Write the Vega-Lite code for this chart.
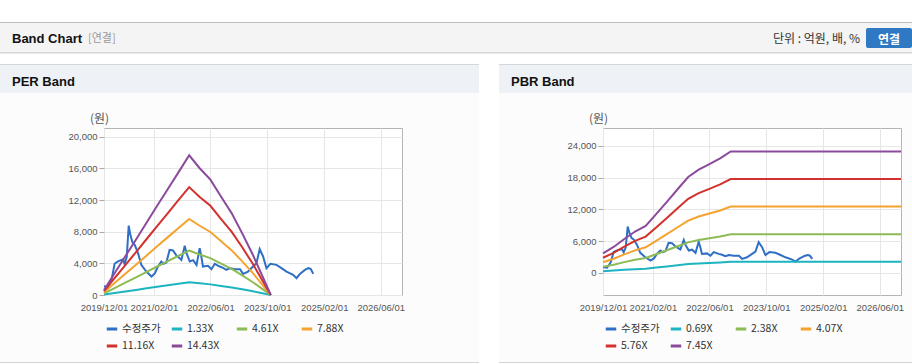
{
"$schema": "https://vega.github.io/schema/vega-lite/v6.json",
"background": "#fcfcfc",
"padding": 0,
"autosize": {"type": "pad"},
"data": {"values": []},
"datasets": {
"price": [
{"d":"2019-12-01","s":"수정주가","v":1100},{"d":"2020-01-05","s":"수정주가","v":1000},{"d":"2020-02-05","s":"수정주가","v":2000},{"d":"2020-03-01","s":"수정주가","v":3950},{"d":"2020-03-30","s":"수정주가","v":4250},{"d":"2020-05-12","s":"수정주가","v":4500},{"d":"2020-05-26","s":"수정주가","v":3900},{"d":"2020-06-13","s":"수정주가","v":4800},{"d":"2020-06-30","s":"수정주가","v":8760},{"d":"2020-07-14","s":"수정주가","v":7600},{"d":"2020-08-01","s":"수정주가","v":6650},{"d":"2020-08-20","s":"수정주가","v":6350},{"d":"2020-09-18","s":"수정주가","v":5290},{"d":"2020-10-16","s":"수정주가","v":3810},{"d":"2020-11-28","s":"수정주가","v":2960},{"d":"2021-01-12","s":"수정주가","v":2330},{"d":"2021-02-10","s":"수정주가","v":2750},{"d":"2021-03-08","s":"수정주가","v":3600},{"d":"2021-04-06","s":"수정주가","v":4230},{"d":"2021-04-26","s":"수정주가","v":3950},{"d":"2021-05-19","s":"수정주가","v":4100},{"d":"2021-06-16","s":"수정주가","v":5700},{"d":"2021-07-15","s":"수정주가","v":5630},{"d":"2021-08-13","s":"수정주가","v":5000},{"d":"2021-09-06","s":"수정주가","v":4700},{"d":"2021-09-25","s":"수정주가","v":4440},{"d":"2021-10-24","s":"수정주가","v":6220},{"d":"2021-11-08","s":"수정주가","v":5290},{"d":"2021-12-06","s":"수정주가","v":4230},{"d":"2022-01-04","s":"수정주가","v":4400},{"d":"2022-02-02","s":"수정주가","v":3800},{"d":"2022-03-01","s":"수정주가","v":5900},{"d":"2022-03-15","s":"수정주가","v":4870},{"d":"2022-03-29","s":"수정주가","v":3600},{"d":"2022-05-11","s":"수정주가","v":3700},{"d":"2022-06-10","s":"수정주가","v":3260},{"d":"2022-07-08","s":"수정주가","v":3940},{"d":"2022-08-20","s":"수정주가","v":3600},{"d":"2022-09-18","s":"수정주가","v":3430},{"d":"2022-10-16","s":"수정주가","v":3170},{"d":"2022-11-15","s":"수정주가","v":3390},{"d":"2022-12-27","s":"수정주가","v":3260},{"d":"2023-02-10","s":"수정주가","v":3260},{"d":"2023-03-08","s":"수정주가","v":2670},{"d":"2023-04-20","s":"수정주가","v":2960},{"d":"2023-06-02","s":"수정주가","v":3600},{"d":"2023-07-01","s":"수정주가","v":4020},{"d":"2023-07-29","s":"수정주가","v":5800},{"d":"2023-08-27","s":"수정주가","v":4870},{"d":"2023-09-25","s":"수정주가","v":3390},{"d":"2023-10-29","s":"수정주가","v":3940},{"d":"2023-12-20","s":"수정주가","v":3810},{"d":"2024-02-01","s":"수정주가","v":3390},{"d":"2024-03-15","s":"수정주가","v":2960},{"d":"2024-05-11","s":"수정주가","v":2540},{"d":"2024-06-09","s":"수정주가","v":2120},{"d":"2024-07-08","s":"수정주가","v":2670},{"d":"2024-08-20","s":"수정주가","v":3170},{"d":"2024-09-18","s":"수정주가","v":3390},{"d":"2024-10-08","s":"수정주가","v":3300},{"d":"2024-10-31","s":"수정주가","v":2670}
],
"per": [
{"d":"2019-12-01","s":"1.33X","v":59},{"d":"2019-12-01","s":"4.61X","v":203},{"d":"2019-12-01","s":"7.88X","v":347},{"d":"2019-12-01","s":"11.16X","v":491},{"d":"2019-12-01","s":"14.43X","v":635},
{"d":"2020-03-01","s":"1.33X","v":254},{"d":"2020-03-01","s":"4.61X","v":881},{"d":"2020-03-01","s":"7.88X","v":1505},{"d":"2020-03-01","s":"11.16X","v":2132},{"d":"2020-03-01","s":"14.43X","v":2756},
{"d":"2020-06-01","s":"1.33X","v":451},{"d":"2020-06-01","s":"4.61X","v":1563},{"d":"2020-06-01","s":"7.88X","v":2671},{"d":"2020-06-01","s":"11.16X","v":3783},{"d":"2020-06-01","s":"14.43X","v":4892},
{"d":"2020-09-01","s":"1.33X","v":646},{"d":"2020-09-01","s":"4.61X","v":2240},{"d":"2020-09-01","s":"7.88X","v":3830},{"d":"2020-09-01","s":"11.16X","v":5424},{"d":"2020-09-01","s":"14.43X","v":7013},
{"d":"2020-12-01","s":"1.33X","v":843},{"d":"2020-12-01","s":"4.61X","v":2923},{"d":"2020-12-01","s":"7.88X","v":4996},{"d":"2020-12-01","s":"11.16X","v":7075},{"d":"2020-12-01","s":"14.43X","v":9149},
{"d":"2021-03-01","s":"1.33X","v":1039},{"d":"2021-03-01","s":"4.61X","v":3600},{"d":"2021-03-01","s":"7.88X","v":6154},{"d":"2021-03-01","s":"11.16X","v":8716},{"d":"2021-03-01","s":"14.43X","v":11270},
{"d":"2021-06-01","s":"1.33X","v":1234},{"d":"2021-06-01","s":"4.61X","v":4278},{"d":"2021-06-01","s":"7.88X","v":7313},{"d":"2021-06-01","s":"11.16X","v":10356},{"d":"2021-06-01","s":"14.43X","v":13391},
{"d":"2021-09-01","s":"1.33X","v":1431},{"d":"2021-09-01","s":"4.61X","v":4960},{"d":"2021-09-01","s":"7.88X","v":8479},{"d":"2021-09-01","s":"11.16X","v":12008},{"d":"2021-09-01","s":"14.43X","v":15527},
{"d":"2021-12-01","s":"1.33X","v":1600},{"d":"2021-12-01","s":"4.61X","v":5600},{"d":"2021-12-01","s":"7.88X","v":9610},{"d":"2021-12-01","s":"11.16X","v":13630},{"d":"2021-12-01","s":"14.43X","v":17650},
{"d":"2022-03-01","s":"1.33X","v":1476},{"d":"2022-03-01","s":"4.61X","v":5117},{"d":"2022-03-01","s":"7.88X","v":8747},{"d":"2022-03-01","s":"11.16X","v":12388},{"d":"2022-03-01","s":"14.43X","v":16017},
{"d":"2022-06-01","s":"1.33X","v":1343},{"d":"2022-06-01","s":"4.61X","v":4656},{"d":"2022-06-01","s":"7.88X","v":7959},{"d":"2022-06-01","s":"11.16X","v":11272},{"d":"2022-06-01","s":"14.43X","v":14574},
{"d":"2022-09-01","s":"1.33X","v":1144},{"d":"2022-09-01","s":"4.61X","v":3965},{"d":"2022-09-01","s":"7.88X","v":6777},{"d":"2022-09-01","s":"11.16X","v":9598},{"d":"2022-09-01","s":"14.43X","v":12410},
{"d":"2022-12-01","s":"1.33X","v":951},{"d":"2022-12-01","s":"4.61X","v":3296},{"d":"2022-12-01","s":"7.88X","v":5634},{"d":"2022-12-01","s":"11.16X","v":7979},{"d":"2022-12-01","s":"14.43X","v":10317},
{"d":"2023-03-01","s":"1.33X","v":718},{"d":"2023-03-01","s":"4.61X","v":2489},{"d":"2023-03-01","s":"7.88X","v":4255},{"d":"2023-03-01","s":"11.16X","v":6026},{"d":"2023-03-01","s":"14.43X","v":7792},
{"d":"2023-06-01","s":"1.33X","v":466},{"d":"2023-06-01","s":"4.61X","v":1614},{"d":"2023-06-01","s":"7.88X","v":2758},{"d":"2023-06-01","s":"11.16X","v":3906},{"d":"2023-06-01","s":"14.43X","v":5051},
{"d":"2023-09-01","s":"1.33X","v":186},{"d":"2023-09-01","s":"4.61X","v":645},{"d":"2023-09-01","s":"7.88X","v":1103},{"d":"2023-09-01","s":"11.16X","v":1562},{"d":"2023-09-01","s":"14.43X","v":2020},
{"d":"2023-11-01","s":"1.33X","v":0},{"d":"2023-11-01","s":"4.61X","v":0},{"d":"2023-11-01","s":"7.88X","v":0},{"d":"2023-11-01","s":"11.16X","v":0},{"d":"2023-11-01","s":"14.43X","v":0}
],
"pbr": [
{"d":"2019-12-01","s":"0.69X","v":344},{"d":"2019-12-01","s":"2.38X","v":1188},{"d":"2019-12-01","s":"4.07X","v":2031},{"d":"2019-12-01","s":"5.76X","v":2874},{"d":"2019-12-01","s":"7.45X","v":3718},
{"d":"2020-03-01","s":"0.69X","v":455},{"d":"2020-03-01","s":"2.38X","v":1571},{"d":"2020-03-01","s":"4.07X","v":2686},{"d":"2020-03-01","s":"5.76X","v":3802},{"d":"2020-03-01","s":"7.45X","v":4917},
{"d":"2020-06-01","s":"0.69X","v":593},{"d":"2020-06-01","s":"2.38X","v":2047},{"d":"2020-06-01","s":"4.07X","v":3500},{"d":"2020-06-01","s":"5.76X","v":4954},{"d":"2020-06-01","s":"7.45X","v":6407},
{"d":"2020-09-01","s":"0.69X","v":725},{"d":"2020-09-01","s":"2.38X","v":2499},{"d":"2020-09-01","s":"4.07X","v":4274},{"d":"2020-09-01","s":"5.76X","v":6048},{"d":"2020-09-01","s":"7.45X","v":7823},
{"d":"2020-12-01","s":"0.69X","v":822},{"d":"2020-12-01","s":"2.38X","v":2837},{"d":"2020-12-01","s":"4.07X","v":4851},{"d":"2020-12-01","s":"5.76X","v":6866},{"d":"2020-12-01","s":"7.45X","v":8880},
{"d":"2021-03-01","s":"0.69X","v":1028},{"d":"2021-03-01","s":"2.38X","v":3546},{"d":"2021-03-01","s":"4.07X","v":6064},{"d":"2021-03-01","s":"5.76X","v":8582},{"d":"2021-03-01","s":"7.45X","v":11101},
{"d":"2021-06-01","s":"0.69X","v":1242},{"d":"2021-06-01","s":"2.38X","v":4284},{"d":"2021-06-01","s":"4.07X","v":7326},{"d":"2021-06-01","s":"5.76X","v":10368},{"d":"2021-06-01","s":"7.45X","v":13410},
{"d":"2021-09-01","s":"0.69X","v":1463},{"d":"2021-09-01","s":"2.38X","v":5046},{"d":"2021-09-01","s":"4.07X","v":8628},{"d":"2021-09-01","s":"5.76X","v":12211},{"d":"2021-09-01","s":"7.45X","v":15794},
{"d":"2021-12-01","s":"0.69X","v":1677},{"d":"2021-12-01","s":"2.38X","v":5783},{"d":"2021-12-01","s":"4.07X","v":9890},{"d":"2021-12-01","s":"5.76X","v":13997},{"d":"2021-12-01","s":"7.45X","v":18104},
{"d":"2022-03-01","s":"0.69X","v":1804},{"d":"2022-03-01","s":"2.38X","v":6224},{"d":"2022-03-01","s":"4.07X","v":10643},{"d":"2022-03-01","s":"5.76X","v":15062},{"d":"2022-03-01","s":"7.45X","v":19482},
{"d":"2022-06-01","s":"0.69X","v":1901},{"d":"2022-06-01","s":"2.38X","v":6557},{"d":"2022-06-01","s":"4.07X","v":11213},{"d":"2022-06-01","s":"5.76X","v":15869},{"d":"2022-06-01","s":"7.45X","v":20525},
{"d":"2022-09-01","s":"0.69X","v":2001},{"d":"2022-09-01","s":"2.38X","v":6902},{"d":"2022-09-01","s":"4.07X","v":11803},{"d":"2022-09-01","s":"5.76X","v":16704},{"d":"2022-09-01","s":"7.45X","v":21605},
{"d":"2022-12-01","s":"0.69X","v":2124},{"d":"2022-12-01","s":"2.38X","v":7326},{"d":"2022-12-01","s":"4.07X","v":12527},{"d":"2022-12-01","s":"5.76X","v":17729},{"d":"2022-12-01","s":"7.45X","v":22931},
{"d":"2026-12-01","s":"0.69X","v":2124},{"d":"2026-12-01","s":"2.38X","v":7326},{"d":"2026-12-01","s":"4.07X","v":12527},{"d":"2026-12-01","s":"5.76X","v":17729},{"d":"2026-12-01","s":"7.45X","v":22931}
]
},
"config": {"view": {"stroke": null}, "concat": {"spacing": 0}},
"bounds": "full",
"spacing": 0,
"resolve": {"scale": {"color": "independent"}, "legend": {"color": "independent"}},
"vconcat": [
{"width": 912, "height": 22, "mark": "point", "encoding": {}, "view": {"fill": "white"}},
{"width": 912, "height": 1, "mark": "point", "encoding": {}, "view": {"fill": "#bdbdbd"}},
{"hconcat": [
  {"width": 86, "height": 29, "mark": "point", "encoding": {}, "view": {"fill": "#f4f4f4"},
   "title": {"text": "Band Chart", "orient": "top", "anchor": "start", "frame": "group", "offset": -28.5, "baseline": "middle", "dx": 12, "font": "Liberation Sans", "fontSize": 13, "fontWeight": "bold", "color": "#111"}},
  {"width": 680, "height": 29, "mark": "point", "encoding": {}, "view": {"fill": "#f4f4f4"},
   "title": {"text": "[연결]", "orient": "top", "anchor": "start", "frame": "group", "offset": -27, "baseline": "middle", "dx": 2, "font": "Noto Sans CJK KR", "fontSize": 11, "fontWeight": "normal", "color": "#999"}},
  {"width": 96, "height": 29, "mark": "point", "encoding": {}, "view": {"fill": "#f4f4f4"},
   "title": {"text": "단위 : 억원, 배, %", "orient": "top", "anchor": "end", "frame": "group", "offset": -28, "baseline": "middle", "dx": -2, "font": "Noto Sans CJK KR", "fontSize": 12, "fontWeight": "normal", "color": "#333"}},
  {"width": 4, "height": 29, "mark": "point", "encoding": {}, "view": {"fill": "#f4f4f4"}},
  {"vconcat": [
    {"width": 46, "height": 5, "mark": "point", "encoding": {}, "view": {"fill": "#f4f4f4"}},
    {"width": 46, "height": 20, "mark": "point", "encoding": {}, "view": {"fill": "#2f78c4", "cornerRadius": 2},
     "title": {"text": "연결", "orient": "top", "anchor": "middle", "frame": "group", "offset": -23.5, "baseline": "middle", "font": "Noto Sans CJK KR", "fontSize": 12, "fontWeight": "bold", "color": "white"}},
    {"width": 46, "height": 4, "mark": "point", "encoding": {}, "view": {"fill": "#f4f4f4"}}
  ], "spacing": 0, "bounds": "full"}
], "spacing": 0, "bounds": "full"},
{"width": 912, "height": 1, "mark": "point", "encoding": {}, "view": {"fill": "#d6d6d6"}},
{"width": 912, "height": 1, "mark": "point", "encoding": {}, "view": {"fill": "#ebebeb"}},
{"width": 912, "height": 10, "mark": "point", "encoding": {}, "view": {"fill": "white"}},
{"hconcat": [
  {"vconcat": [
    {"width": 479, "height": 1, "mark": "point", "encoding": {}, "view": {"fill": "#d6d6d6"}},
    {"width": 479, "height": 28, "mark": "point", "encoding": {}, "view": {"fill": "#eef2f6"},
     "title": {"text": "PER Band", "orient": "top", "anchor": "start", "frame": "group", "offset": -30, "baseline": "middle", "dx": 12, "font": "Liberation Sans", "fontSize": 13, "fontWeight": "bold", "color": "#111"}},
    {"columns": 3, "spacing": 0, "bounds": "flush",
     "resolve": {"scale": {"color": "independent"}, "legend": {"color": "independent"}},
     "concat": [
      {"width": 104, "height": 35, "mark": "point", "encoding": {}},
      {"width": 298, "height": 35, "mark": "point", "encoding": {}},
      {"width": 77, "height": 35, "mark": "point", "encoding": {}},
      {"width": 104, "height": 167, "mark": "point", "encoding": {}},
      {"width": 298, "height": 167,
       "view": {"stroke": "#b4b4b4", "fill": "white"},
       "encoding": {
         "x": {"field": "d", "type": "temporal",
               "scale": {"type": "utc", "domain": [{"year": 2019, "month": 12, "date": 1, "utc": true}, {"year": 2026, "month": 12, "date": 1, "utc": true}]},
               "axis": {"values": [{"year": 2019, "month": 12, "date": 1, "utc": true}, {"year": 2021, "month": 2, "date": 1, "utc": true}, {"year": 2022, "month": 6, "date": 1, "utc": true}, {"year": 2023, "month": 10, "date": 1, "utc": true}, {"year": 2025, "month": 2, "date": 1, "utc": true}, {"year": 2026, "month": 6, "date": 1, "utc": true}],
                        "labelExpr": "utcFormat(datum.value, '%Y/%m/%d')", "title": null, "ticks": false, "domain": false, "grid": true, "gridColor": "#e6e6e6",
                        "labelColor": "#555", "labelFont": "Liberation Sans", "labelFontSize": 9.5, "labelPadding": 7, "labelOverlap": false, "labelFlush": false, "labelBound": false}},
         "y": {"field": "v", "type": "quantitative",
               "scale": {"domain": [0, 21100], "nice": false, "zero": false},
               "axis": {"values": [0, 4000, 8000, 12000, 16000, 20000], "format": ",d", "title": "(원)", "titleAngle": 0, "titleX": -5, "titleY": -10, "titleAlign": "center", "titleBaseline": "middle", "titleFont": "Noto Sans CJK KR", "titleFontSize": 12, "titleFontWeight": "normal", "titleColor": "#555",
                        "domain": false, "ticks": true, "tickSize": 5, "tickColor": "#aaaaaa", "grid": true, "gridColor": "#e6e6e6",
                        "labelColor": "#555", "labelFont": "Liberation Sans", "labelFontSize": 9.5, "labelPadding": 2}},
         "color": {"field": "s", "type": "nominal",
                   "scale": {"domain": ["수정주가", "1.33X", "4.61X", "7.88X", "11.16X", "14.43X"], "range": ["#2f6fc6", "#1db4c2", "#8dbb55", "#f4a32f", "#d2312d", "#8c4a9c"]},
                   "legend": {"orient": "none", "legendX": 1, "legendY": 194, "direction": "horizontal", "columns": 4, "title": null, "symbolType": "stroke", "symbolSize": 110, "symbolStrokeWidth": 3, "labelFont": "Noto Sans CJK KR", "labelFontSize": 10.5, "labelColor": "#333", "labelOffset": 3, "columnPadding": 4, "rowPadding": 4, "gridAlign": "all", "padding": 0}}
       },
       "layer": [
         {"data": {"name": "price"}, "mark": {"type": "line", "strokeWidth": 2}},
         {"data": {"name": "per"}, "mark": {"type": "line", "strokeWidth": 2}}
       ]},
      {"width": 77, "height": 167, "mark": "point", "encoding": {}},
      {"width": 104, "height": 67, "mark": "point", "encoding": {}},
      {"width": 298, "height": 67, "mark": "point", "encoding": {}},
      {"width": 77, "height": 67, "mark": "point", "encoding": {}},
      {"width": 104, "height": 1, "mark": "point", "encoding": {}, "view": {"fill": "#d4d4d4"}},
      {"width": 298, "height": 1, "mark": "point", "encoding": {}, "view": {"fill": "#d4d4d4"}},
      {"width": 77, "height": 1, "mark": "point", "encoding": {}, "view": {"fill": "#d4d4d4"}}
    ]}
  ], "spacing": 0, "bounds": "full", "resolve": {"scale": {"color": "independent"}, "legend": {"color": "independent"}}},
  {"width": 20, "height": 299, "mark": "point", "encoding": {}, "view": {"fill": "white"}},
  {"vconcat": [
    {"width": 413, "height": 1, "mark": "point", "encoding": {}, "view": {"fill": "#d6d6d6"}},
    {"width": 413, "height": 28, "mark": "point", "encoding": {}, "view": {"fill": "#eef2f6"},
     "title": {"text": "PBR Band", "orient": "top", "anchor": "start", "frame": "group", "offset": -30, "baseline": "middle", "dx": 12, "font": "Liberation Sans", "fontSize": 13, "fontWeight": "bold", "color": "#111"}},
    {"columns": 3, "spacing": 0, "bounds": "flush",
     "resolve": {"scale": {"color": "independent"}, "legend": {"color": "independent"}},
     "concat": [
      {"width": 104, "height": 35, "mark": "point", "encoding": {}},
      {"width": 298, "height": 35, "mark": "point", "encoding": {}},
      {"width": 11, "height": 35, "mark": "point", "encoding": {}},
      {"width": 104, "height": 167, "mark": "point", "encoding": {}},
      {"width": 298, "height": 167,
       "view": {"stroke": "#b4b4b4", "fill": "white"},
       "encoding": {
         "x": {"field": "d", "type": "temporal",
               "scale": {"type": "utc", "domain": [{"year": 2019, "month": 12, "date": 1, "utc": true}, {"year": 2026, "month": 12, "date": 1, "utc": true}]},
               "axis": {"values": [{"year": 2019, "month": 12, "date": 1, "utc": true}, {"year": 2021, "month": 2, "date": 1, "utc": true}, {"year": 2022, "month": 6, "date": 1, "utc": true}, {"year": 2023, "month": 10, "date": 1, "utc": true}, {"year": 2025, "month": 2, "date": 1, "utc": true}, {"year": 2026, "month": 6, "date": 1, "utc": true}],
                        "labelExpr": "utcFormat(datum.value, '%Y/%m/%d')", "title": null, "ticks": false, "domain": false, "grid": true, "gridColor": "#e6e6e6",
                        "labelColor": "#555", "labelFont": "Liberation Sans", "labelFontSize": 9.5, "labelPadding": 7, "labelOverlap": false, "labelFlush": false, "labelBound": false}},
         "y": {"field": "v", "type": "quantitative",
               "scale": {"domain": [-4150, 27350], "nice": false, "zero": false},
               "axis": {"values": [0, 6000, 12000, 18000, 24000], "format": ",d", "title": "(원)", "titleAngle": 0, "titleX": -5, "titleY": -10, "titleAlign": "center", "titleBaseline": "middle", "titleFont": "Noto Sans CJK KR", "titleFontSize": 12, "titleFontWeight": "normal", "titleColor": "#555",
                        "domain": false, "ticks": true, "tickSize": 5, "tickColor": "#aaaaaa", "grid": true, "gridColor": "#e6e6e6",
                        "labelColor": "#555", "labelFont": "Liberation Sans", "labelFontSize": 9.5, "labelPadding": 2}},
         "color": {"field": "s", "type": "nominal",
                   "scale": {"domain": ["수정주가", "0.69X", "2.38X", "4.07X", "5.76X", "7.45X"], "range": ["#2f6fc6", "#1db4c2", "#8dbb55", "#f4a32f", "#d2312d", "#8c4a9c"]},
                   "legend": {"orient": "none", "legendX": 1, "legendY": 194, "direction": "horizontal", "columns": 4, "title": null, "symbolType": "stroke", "symbolSize": 110, "symbolStrokeWidth": 3, "labelFont": "Noto Sans CJK KR", "labelFontSize": 10.5, "labelColor": "#333", "labelOffset": 3, "columnPadding": 4, "rowPadding": 4, "gridAlign": "all", "padding": 0}}
       },
       "layer": [
         {"data": {"name": "price"}, "mark": {"type": "line", "strokeWidth": 2}},
         {"data": {"name": "pbr"}, "mark": {"type": "line", "strokeWidth": 2}}
       ]},
      {"width": 11, "height": 167, "mark": "point", "encoding": {}},
      {"width": 104, "height": 67, "mark": "point", "encoding": {}},
      {"width": 298, "height": 67, "mark": "point", "encoding": {}},
      {"width": 11, "height": 67, "mark": "point", "encoding": {}},
      {"width": 104, "height": 1, "mark": "point", "encoding": {}, "view": {"fill": "#d4d4d4"}},
      {"width": 298, "height": 1, "mark": "point", "encoding": {}, "view": {"fill": "#d4d4d4"}},
      {"width": 11, "height": 1, "mark": "point", "encoding": {}, "view": {"fill": "#d4d4d4"}}
    ]}
  ], "spacing": 0, "bounds": "full", "resolve": {"scale": {"color": "independent"}, "legend": {"color": "independent"}}}
], "spacing": 0, "bounds": "full", "resolve": {"scale": {"color": "independent"}, "legend": {"color": "independent"}}}
]
}
